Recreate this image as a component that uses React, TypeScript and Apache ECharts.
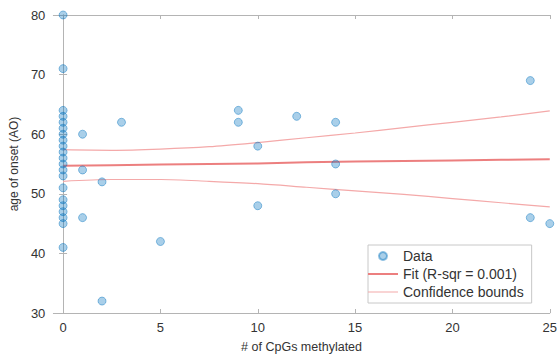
import React, { useEffect, useRef } from "react";
import * as echarts from "echarts";

// Observed data (# of CpGs methylated, age of onset)
const cpgX = [
  0, 0, 0, 0, 0, 0, 0, 0, 0, 0, 0, 0, 0, 0, 0, 0, 0, 0, 0, 0, 0,
  1, 1, 1, 2, 2, 3, 5, 9, 9, 10, 10, 12, 14, 14, 14, 24, 24, 25,
];
const onsetY = [
  80, 71, 64, 63, 62, 61, 60, 59, 58, 57, 56, 55, 54, 53, 51, 49, 48, 47, 46, 45, 41,
  60, 54, 46, 52, 32, 62, 42, 64, 62, 58, 48, 63, 62, 55, 50, 69, 46, 45,
];

// Fitted line and confidence bounds, read at these x positions
const fitX = [0, 2.5, 5, 7.5, 10, 12.5, 15, 17.5, 20, 22.5, 25];
const fitY = [54.7, 54.8, 54.9, 55.0, 55.1, 55.3, 55.4, 55.5, 55.6, 55.7, 55.8];
const upperY = [57.4, 57.3, 57.5, 57.9, 58.6, 59.4, 60.2, 61.1, 62.0, 62.9, 63.9];
const lowerY = [52.1, 52.4, 52.4, 52.1, 51.7, 51.1, 50.5, 49.9, 49.2, 48.5, 47.8];

const xTicks = [0, 5, 10, 15, 20, 25];

const FONT = "Liberation Sans, Arial, Helvetica, sans-serif";

// legend line icons: a horizontal bar inside a 30x8 box (zero-area subpaths pin the box)
const thickLineIcon = "path://M0,0H30V0H0Z M0,3H30V5H0Z M0,8H30V8H0Z";
const thinLineIcon = "path://M0,0H30V0H0Z M0,3.4H30V4.6H0Z M0,8H30V8H0Z";

export default function App() {
  const ref = useRef<HTMLDivElement>(null);
  useEffect(() => {
    if (!ref.current) return;
    const chart = echarts.init(ref.current, null, { renderer: "svg" });
    const pts = cpgX.map((x, i) => [x, onsetY[i]]);
    const pair = (ys: number[]) => fitX.map((x, i) => [x, ys[i]]);
    const axisColor = "#b4b4b4";
    const labelStyle = { color: "#333", fontSize: 13, fontFamily: FONT };
    chart.setOption({
      animation: false,
      backgroundColor: "#fff",
      grid: { left: 51, right: 9, top: 15, bottom: 42 },
      xAxis: [
        {
          type: "value",
          min: -0.5,
          max: 25,
          position: "bottom",
          name: "# of CpGs methylated",
          nameLocation: "middle",
          nameGap: 27,
          nameTextStyle: { color: "#333", fontSize: 12.5, fontFamily: FONT },
          axisLine: { show: true, lineStyle: { color: axisColor, width: 1 } },
          axisTick: { show: true, inside: true, length: 4, customValues: xTicks, lineStyle: { color: axisColor } },
          axisLabel: { ...labelStyle, margin: 8, customValues: xTicks },
          splitLine: { show: false },
        },
        {
          type: "value",
          min: -0.5,
          max: 25,
          position: "top",
          axisLine: { show: true, lineStyle: { color: axisColor, width: 1 } },
          axisTick: { show: true, inside: true, length: 4, customValues: xTicks, lineStyle: { color: axisColor } },
          axisLabel: { show: false },
          splitLine: { show: false },
        },
      ],
      yAxis: [
        {
          type: "value",
          min: 30,
          max: 80,
          interval: 10,
          position: "left",
          name: "age of onset (AO)",
          nameLocation: "middle",
          nameGap: 32,
          nameTextStyle: { color: "#333", fontSize: 12, fontFamily: FONT },
          axisLine: { show: true, lineStyle: { color: axisColor, width: 1 } },
          axisTick: { show: true, inside: true, length: 4, lineStyle: { color: axisColor } },
          axisLabel: { ...labelStyle, margin: 8 },
          splitLine: { show: false },
        },
        {
          type: "value",
          min: 30,
          max: 80,
          interval: 10,
          position: "right",
          axisLine: { show: true, lineStyle: { color: axisColor, width: 1 } },
          axisTick: { show: true, inside: true, length: 4, lineStyle: { color: axisColor } },
          axisLabel: { show: false },
          splitLine: { show: false },
        },
      ],
      legend: {
        orient: "vertical",
        left: 368,
        top: 245,
        padding: [4, 8, 4, 0],
        itemWidth: 30,
        itemHeight: 8,
        itemGap: 4,
        borderColor: "#c8c8c8",
        borderWidth: 1,
        backgroundColor: "#fff",
        textStyle: { color: "#333", fontSize: 14, fontFamily: FONT },
        data: [
          { name: "Data", icon: "circle" },
          { name: "Fit (R-sqr = 0.001)", icon: thickLineIcon },
          { name: "Confidence bounds", icon: thinLineIcon },
        ],
      },
      series: [
        {
          name: "Data",
          type: "scatter",
          data: pts,
          symbol: "circle",
          symbolSize: 8,
          itemStyle: {
            color: "rgba(0,114,189,0.42)",
            borderColor: "rgba(0,114,189,0.55)",
            borderWidth: 1,
          },
          z: 3,
        },
        {
          name: "Fit (R-sqr = 0.001)",
          type: "line",
          data: pair(fitY),
          symbol: "none",
          lineStyle: { color: "#ec7f7f", width: 2 },
          itemStyle: { color: "#ec7f7f" },
          z: 2,
        },
        {
          name: "Confidence bounds",
          type: "line",
          data: pair(upperY),
          symbol: "none",
          smooth: 0.3,
          lineStyle: { color: "#f4a9a9", width: 1.2 },
          itemStyle: { color: "#f4a9a9" },
          z: 2,
        },
        {
          name: "Confidence bounds",
          type: "line",
          data: pair(lowerY),
          symbol: "none",
          smooth: 0.3,
          lineStyle: { color: "#f4a9a9", width: 1.2 },
          itemStyle: { color: "#f4a9a9" },
          z: 2,
        },
      ],
    });
    return () => chart.dispose();
  }, []);
  return <div ref={ref} style={{ width: 560, height: 358, position: "absolute", left: 0, top: 0 }} />;
}
